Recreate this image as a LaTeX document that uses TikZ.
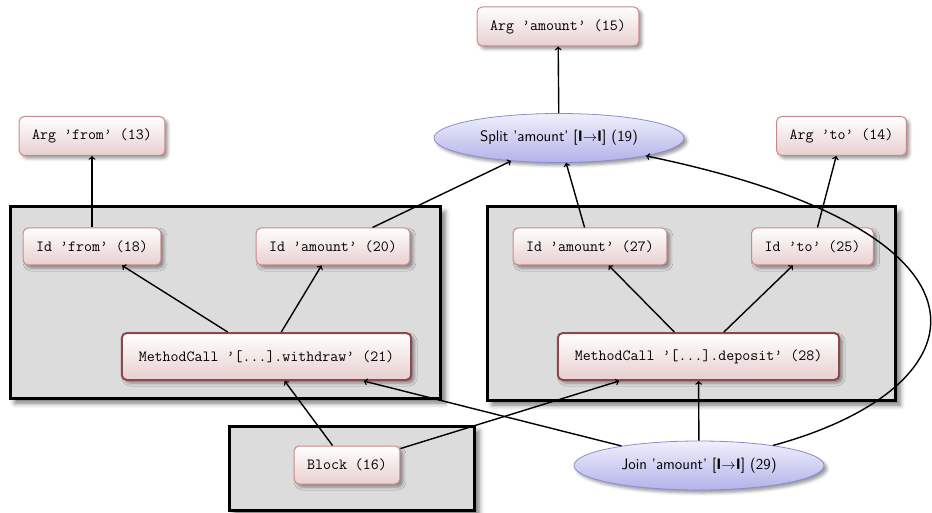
\documentclass[tikz,border=0pt]{standalone}
\usetikzlibrary{shapes.geometric,shadows,shadows.blur}
\definecolor{boxborder}{HTML}{C98A8A}
\definecolor{boxbot}{HTML}{E8CFCF}
\definecolor{mcborder}{HTML}{8A4A4A}
\definecolor{ellborder}{HTML}{8C8CD6}
\definecolor{elltop}{HTML}{F0F0FC}
\definecolor{ellbot}{HTML}{B2B2EA}
\definecolor{clfill}{HTML}{DCDCDC}
\tikzset{
  box/.style={rectangle, rounded corners=5pt, draw=boxborder, line width=1pt,
    top color=white, bottom color=boxbot,
    blur shadow={shadow xshift=3pt, shadow yshift=-3pt, shadow blur radius=3pt, shadow opacity=40},
    inner xsep=13pt, inner ysep=0pt, minimum height=38pt,
    font=\fontsize{15.5}{18}\selectfont\ttfamily},
  mcbox/.style={box, draw=mcborder, line width=2pt, inner xsep=17pt, minimum height=47pt},
  ell/.style={ellipse, draw=ellborder, line width=0.8pt, top color=elltop, bottom color=ellbot,
    blur shadow={shadow xshift=3pt, shadow yshift=-3pt, shadow blur radius=3pt, shadow opacity=40},
    inner sep=0pt, minimum width=250pt, minimum height=49pt,
    font=\fontsize{15.2}{18}\selectfont\sffamily},
  cluster/.style={draw=black, line width=3pt, fill=clfill,
    blur shadow={shadow xshift=5pt, shadow yshift=-5pt, shadow blur radius=5pt, shadow opacity=55}},
  edge/.style={draw=black, line width=1.4pt, ->, >=to}
}
\begin{document}
\begin{tikzpicture}[x=1pt,y=1pt]
\useasboundingbox (0,0) rectangle (932,-513);
% clusters
\node[cluster, minimum width=430pt, minimum height=191pt, inner sep=0pt] (c1) at (225,-302.5) {};
\node[cluster, minimum width=408pt, minimum height=193pt, inner sep=0pt] (c2) at (691,-303.5) {};
\node[cluster, minimum width=245pt, minimum height=84pt, inner sep=0pt] (c3) at (351.5,-468) {};
% nodes
\node[box, minimum height=39pt] (a15) at (558,-26.5) {Arg ’amount’ (15)};
\node[box, minimum height=39pt] (a13) at (92,-136) {Arg ’from’ (13)};
\node[box, minimum height=39pt] (a14) at (841.5,-136) {Arg ’to’ (14)};
\node[ell] (s19) at (559,-138) {Split 'amount' [\textbf{I}$\rightarrow$\textbf{I}] (19)};
\node[box, minimum height=37pt] (i18) at (92,-246.5) {Id ’from’ (18)};
\node[box, minimum height=37pt] (i20) at (333,-246.5) {Id ’amount’ (20)};
\node[box, minimum height=37pt] (i27) at (590,-246.5) {Id ’amount’ (27)};
\node[box, minimum height=37pt] (i25) at (812.5,-246.5) {Id ’to’ (25)};
\node[mcbox] (m21) at (266.5,-356.5) {MethodCall ’[...].withdraw’ (21)};
\node[mcbox] (m28) at (698.5,-356.5) {MethodCall ’[...].deposit’ (28)};
\node[box, minimum height=38pt] (b16) at (347,-465) {Block (16)};
\node[ell] (j29) at (699,-465.5) {Join 'amount' [\textbf{I}$\rightarrow$\textbf{I}] (29)};
% edges
\draw[edge] (i18) -- (a13);
\draw[edge] (i20) -- (s19);
\draw[edge] (s19) -- (a15);
\draw[edge] (i27) -- (s19);
\draw[edge] (i25) -- (a14);
\draw[edge] (m21) -- (i18);
\draw[edge] (m21) -- (i20);
\draw[edge] (m28) -- (i27);
\draw[edge] (m28) -- (i25);
\draw[edge] (b16) -- (m21);
\draw[edge] (b16) -- (m28);
\draw[edge] (j29) -- (m21);
\draw[edge] (j29) -- (m28);
\draw[edge] (j29) .. controls (985,-388) and (1020,-233) .. (s19);
\end{tikzpicture}
\end{document}
